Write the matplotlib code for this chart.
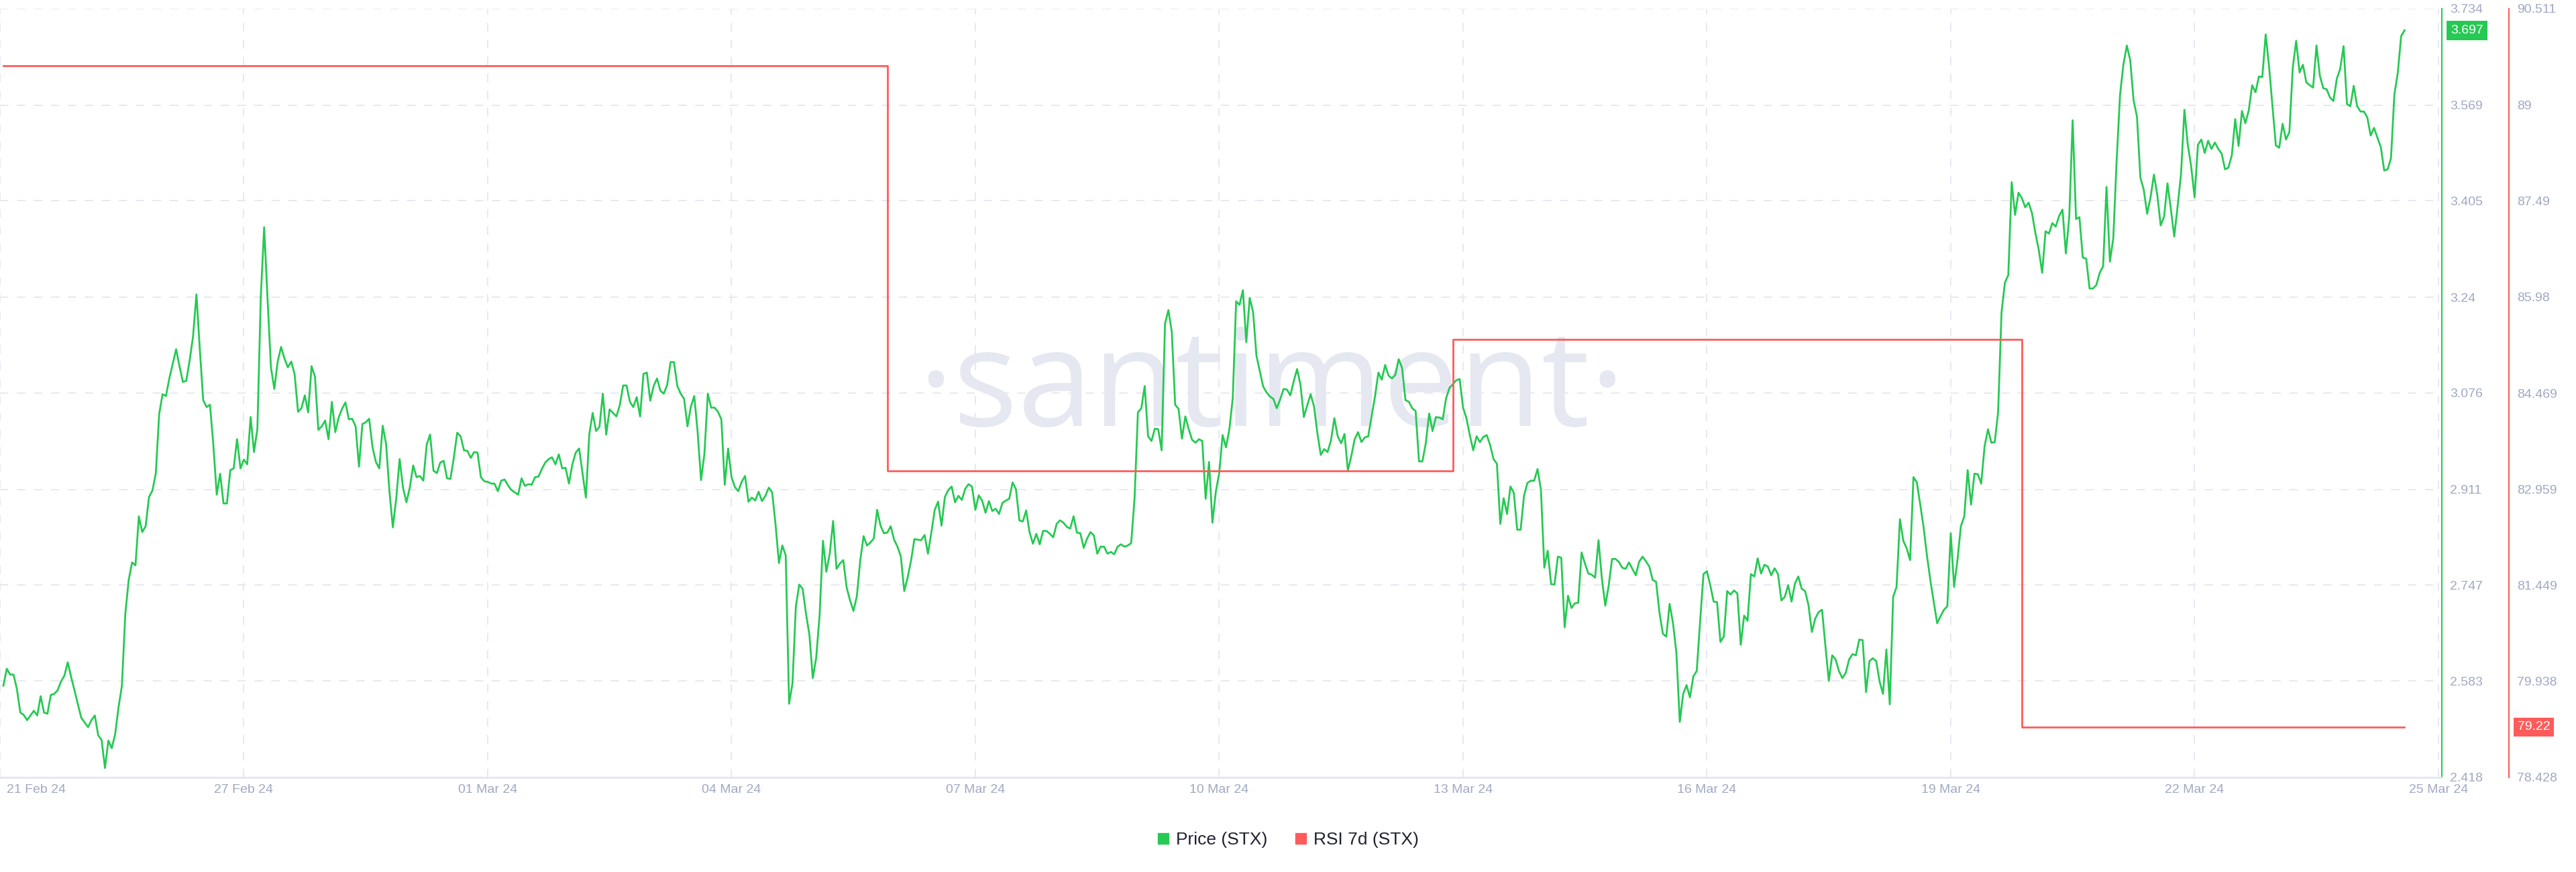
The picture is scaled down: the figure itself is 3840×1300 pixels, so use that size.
import matplotlib.pyplot as plt
import matplotlib.transforms as mtransforms
from matplotlib.lines import Line2D
import pandas as pd

plt.rcParams["font.family"] = ["Liberation Sans", "DejaVu Sans"]

GREEN = "#26c953"
RED = "#ff5b5b"
GRID = "#e6e9f2"
TICK = "#a0a9c4"
WATERMARK = "#e5e8f1"

# hourly STX price, 24 Feb 01:00 onwards
price_part1 = [
    2.575, 2.604, 2.594, 2.594, 2.569, 2.529, 2.525, 2.516, 2.524, 2.532,
    2.524, 2.557, 2.529, 2.527, 2.559, 2.561, 2.567, 2.582, 2.592, 2.615,
    2.590, 2.567, 2.543, 2.520, 2.512, 2.504, 2.516, 2.524, 2.490, 2.482,
    2.434, 2.481, 2.468, 2.492, 2.538, 2.575, 2.698, 2.756, 2.786, 2.781,
    2.865, 2.838, 2.848, 2.898, 2.909, 2.938, 3.040, 3.074, 3.071, 3.101,
    3.126, 3.151, 3.122, 3.095, 3.097, 3.132, 3.173, 3.245, 3.151, 3.064,
    3.052, 3.056, 2.987, 2.902, 2.938, 2.887, 2.887, 2.944, 2.947, 2.997,
    2.947, 2.962, 2.954, 3.035, 2.975, 3.015, 3.240, 3.360, 3.237, 3.120,
    3.083, 3.130, 3.155, 3.135, 3.120, 3.130, 3.108, 3.044, 3.050, 3.072,
    3.043, 3.122, 3.104, 3.013, 3.019, 3.029, 2.997, 3.061, 3.009, 3.034,
    3.049, 3.060, 3.031, 3.032, 3.019, 2.950, 3.023, 3.026, 3.032, 2.983,
    2.958, 2.947, 3.020, 2.989, 2.907, 2.846, 2.896, 2.963, 2.914, 2.889,
    2.914, 2.952, 2.932,
]
price_part2 = [
    2.934, 2.926, 2.988, 3.005, 2.943, 2.939, 2.957, 2.960, 2.930, 2.929,
    2.965, 3.008, 3.002, 2.978, 2.977, 2.965, 2.975, 2.974, 2.932, 2.925,
    2.924, 2.921, 2.921, 2.908, 2.926, 2.928, 2.918, 2.910, 2.906, 2.902,
    2.930, 2.917, 2.920, 2.919, 2.932, 2.933, 2.946, 2.957, 2.963, 2.966,
    2.954, 2.971, 2.947, 2.948, 2.921, 2.954, 2.974, 2.981, 2.939, 2.897,
    3.005, 3.042, 3.011, 3.018, 3.075, 3.005, 3.048, 3.042, 3.036, 3.055,
    3.089, 3.089, 3.061, 3.052, 3.069, 3.036, 3.109, 3.111, 3.063, 3.088,
    3.101, 3.080, 3.075, 3.090, 3.129, 3.129, 3.088, 3.075, 3.066, 3.019,
    3.053, 3.071, 3.009, 2.927, 2.972, 3.075, 3.051, 3.051, 3.044, 3.031,
    2.919, 2.981, 2.932, 2.915, 2.908, 2.924, 2.934, 2.890, 2.897, 2.892,
    2.907, 2.891, 2.900, 2.914, 2.906, 2.851, 2.785, 2.815, 2.798, 2.544,
    2.579, 2.711, 2.748, 2.741, 2.698, 2.662, 2.588, 2.623, 2.695,
]
price_part3 = [
    2.823, 2.770, 2.801, 2.857, 2.775, 2.784, 2.790, 2.743, 2.721, 2.703,
    2.728, 2.789, 2.831, 2.815, 2.820, 2.827, 2.876, 2.849, 2.836, 2.837,
    2.848, 2.825, 2.813, 2.796, 2.737, 2.760, 2.789, 2.826, 2.825, 2.824,
    2.833, 2.801, 2.837, 2.876, 2.890, 2.849, 2.898, 2.910, 2.916, 2.889,
    2.900, 2.893, 2.912, 2.920, 2.916, 2.876, 2.901, 2.892, 2.871, 2.891,
    2.874, 2.878, 2.869, 2.888, 2.892, 2.895, 2.923, 2.911, 2.858, 2.856,
    2.875, 2.838, 2.818, 2.835, 2.817, 2.840, 2.840, 2.835, 2.829, 2.852,
    2.858, 2.854, 2.847, 2.844, 2.865, 2.837, 2.836, 2.811, 2.827, 2.838,
    2.832, 2.801, 2.813, 2.813, 2.801, 2.804, 2.800, 2.813, 2.817, 2.813,
    2.815, 2.819, 2.895, 3.043, 3.050, 3.088, 3.002, 2.994, 3.015, 3.014,
    2.978, 3.195, 3.218, 3.181, 3.056, 3.049, 2.998, 3.036, 3.014, 2.996,
    2.991, 2.997, 2.994, 2.895, 2.958, 2.854, 2.907, 2.939,
]
price_part4 = [
    3.004, 2.983, 3.014, 3.067, 3.233, 3.227, 3.252, 3.163, 3.239, 3.215,
    3.140, 3.113, 3.087, 3.077, 3.070, 3.066, 3.050, 3.065, 3.083, 3.082,
    3.072, 3.096, 3.117, 3.090, 3.035, 3.055, 3.074, 3.053, 3.007, 2.970,
    2.980, 2.975, 2.995, 3.033, 3.002, 2.990, 3.006, 2.943, 2.968, 2.997,
    3.009, 2.992, 3.000, 3.002, 3.036, 3.070, 3.111, 3.099, 3.124, 3.106,
    3.101, 3.107, 3.134, 3.119, 3.064, 3.061, 3.050, 3.045, 2.959, 2.959,
    2.990, 3.041, 3.011, 3.035, 3.034, 3.031, 3.067, 3.085, 3.091, 3.098,
    3.100, 3.051, 3.033, 3.004, 2.978, 3.002, 2.992, 3.001, 3.004, 2.987,
    2.963, 2.955, 2.852, 2.896, 2.869, 2.916, 2.905, 2.842, 2.842, 2.900,
    2.922, 2.926, 2.926, 2.946, 2.910, 2.777, 2.806, 2.749, 2.748, 2.796,
    2.794, 2.675, 2.729, 2.708, 2.716, 2.717, 2.803, 2.784, 2.767, 2.765,
    2.760, 2.824, 2.758, 2.712, 2.746, 2.792, 2.792, 2.787, 2.777,
]
price_part5 = [
    2.775, 2.786, 2.775, 2.764, 2.787, 2.796, 2.788, 2.779, 2.756, 2.753,
    2.700, 2.664, 2.659, 2.715, 2.682, 2.631, 2.513, 2.561, 2.576, 2.555,
    2.591, 2.600, 2.685, 2.766, 2.771, 2.747, 2.719, 2.718, 2.650, 2.659,
    2.737, 2.731, 2.738, 2.733, 2.645, 2.695, 2.686, 2.766, 2.762, 2.793,
    2.767, 2.782, 2.779, 2.764, 2.776, 2.766, 2.721, 2.727, 2.747, 2.719,
    2.750, 2.762, 2.741, 2.737, 2.713, 2.667, 2.690, 2.701, 2.705, 2.643,
    2.583, 2.627, 2.620, 2.600, 2.588, 2.597, 2.620, 2.629, 2.627, 2.654,
    2.653, 2.564, 2.617, 2.622, 2.617, 2.582, 2.561, 2.637, 2.543, 2.727,
    2.744, 2.860, 2.823, 2.810, 2.790, 2.932, 2.923, 2.885, 2.846, 2.797,
    2.755, 2.718, 2.682, 2.694, 2.705, 2.711, 2.836, 2.744, 2.791, 2.848,
    2.865, 2.944, 2.885, 2.938, 2.937, 2.921, 2.985, 3.014, 2.991, 2.992,
    3.044, 3.214, 3.265, 3.278,
]
price_part6 = [
    3.437, 3.381, 3.419, 3.410, 3.394, 3.402, 3.384, 3.350, 3.321, 3.282,
    3.353, 3.349, 3.367, 3.361, 3.379, 3.390, 3.315, 3.378, 3.543, 3.374,
    3.377, 3.308, 3.306, 3.255, 3.255, 3.261, 3.282, 3.293, 3.429, 3.301,
    3.341, 3.475, 3.587, 3.639, 3.671, 3.646, 3.577, 3.549, 3.445, 3.424,
    3.383, 3.411, 3.450, 3.415, 3.363, 3.378, 3.435, 3.391, 3.344, 3.396,
    3.451, 3.561, 3.501, 3.464, 3.411, 3.501, 3.510, 3.487, 3.508, 3.494,
    3.505, 3.494, 3.486, 3.459, 3.462, 3.483, 3.545, 3.499, 3.559, 3.538,
    3.560, 3.603, 3.591, 3.618, 3.617, 3.690, 3.635, 3.567, 3.500, 3.496,
    3.537, 3.510, 3.523, 3.633, 3.679, 3.625, 3.638, 3.608, 3.603, 3.599,
    3.671, 3.619, 3.598, 3.596, 3.582, 3.576, 3.614, 3.631, 3.670, 3.571,
    3.567, 3.602, 3.567, 3.558, 3.558, 3.548, 3.517, 3.530, 3.513, 3.497,
    3.457, 3.459, 3.478, 3.587, 3.624, 3.687, 3.697,
]
price_start = "2024-02-24 01:00"

# weekly RSI 7d, held until the next value
rsi_times = ["2024-02-24 01:00", "2024-03-05 22:00", "2024-03-12 21:00", "2024-03-19 21:00"]
rsi_values = [89.62, 83.246, 85.308, 79.22]

price_ticks = [2.418, 2.583, 2.747, 2.911, 3.076, 3.24, 3.405, 3.569, 3.734]
price_tick_labels = ["2.418", "2.583", "2.747", "2.911", "3.076", "3.24", "3.405", "3.569", "3.734"]
rsi_ticks = [78.428, 79.938, 81.449, 82.959, 84.469, 85.98, 87.49, 89, 90.511]
rsi_tick_labels = ["78.428", "79.938", "81.449", "82.959", "84.469", "85.98", "87.49", "89", "90.511"]
date_ticks = ["2024-02-24", "2024-02-27", "2024-03-01", "2024-03-04", "2024-03-07", "2024-03-10",
              "2024-03-13", "2024-03-16", "2024-03-19", "2024-03-22", "2024-03-25"]
date_labels = ["21 Feb 24", "27 Feb 24", "01 Mar 24", "04 Mar 24", "07 Mar 24", "10 Mar 24",
               "13 Mar 24", "16 Mar 24", "19 Mar 24", "22 Mar 24", "25 Mar 24"]


def main():
    price = price_part1 + price_part2 + price_part3 + price_part4 + price_part5 + price_part6
    times = pd.date_range(price_start, periods=len(price), freq="h")

    fig = plt.figure(figsize=(38.4, 13), dpi=100)
    ax = fig.add_axes([0.0, 0.1085, 0.9479, 0.8815])
    ax2 = ax.twinx()

    ax.plot(times, price, color=GREEN, lw=2.0, zorder=3)
    ax.set_xlim(pd.Timestamp("2024-02-24 00:00"), pd.Timestamp("2024-03-25 01:00"))
    ax.set_ylim(price_ticks[0], price_ticks[-1])
    ax.set_xticks(pd.to_datetime(date_ticks), labels=date_labels)
    ax.set_yticks(price_ticks, labels=price_tick_labels)
    ax.yaxis.tick_right()
    ax.grid(True, color=GRID, lw=1.4, linestyle=(0, (6.5, 6.5)))
    ax.set_axisbelow(True)

    for side in ["top", "left"]:
        ax.spines[side].set_visible(False)
    ax.spines["right"].set_color(GREEN)
    ax.spines["right"].set_linewidth(1.5)
    ax.spines["bottom"].set_color("#e3e7f0")
    ax.spines["bottom"].set_linewidth(2)
    ax.tick_params(axis="y", length=0, pad=8.6, labelsize=14, labelcolor=TICK)
    ax.tick_params(axis="x", length=0, pad=7, labelsize=14, labelcolor=TICK)
    first = ax.get_xticklabels()[0]
    first.set_ha("left")
    first.set_transform(first.get_transform() + mtransforms.ScaledTranslation(0.1, 0, fig.dpi_scale_trans))

    rsi_x = list(pd.to_datetime(rsi_times)) + [times[-1]]
    rsi_y = rsi_values + [rsi_values[-1]]
    ax2.plot(rsi_x, rsi_y, drawstyle="steps-post", color=RED, lw=2.0, zorder=3)
    ax2.set_ylim(rsi_ticks[0], rsi_ticks[-1])
    ax2.set_yticks(rsi_ticks, labels=rsi_tick_labels)
    for side in ["top", "left", "bottom"]:
        ax2.spines[side].set_visible(False)
    ax2.spines["right"].set_position(("outward", 72))
    ax2.spines["right"].set_color(RED)
    ax2.spines["right"].set_linewidth(1.5)
    ax2.tick_params(axis="y", length=0, pad=8.6, labelsize=14, labelcolor=TICK)

    # last-value badges on both axes
    tr1 = mtransforms.blended_transform_factory(ax.transAxes, ax.transData)
    ax.text(1.0036, price[-1], f"{price[-1]:.3f}", transform=tr1, ha="left", va="center",
            fontsize=14, color="white", clip_on=False,
            bbox=dict(boxstyle="square,pad=0.3", fc=GREEN, ec="none"))
    tr2 = mtransforms.blended_transform_factory(ax2.transAxes, ax2.transData)
    ax2.text(1.0310, rsi_values[-1], f"{rsi_values[-1]:.2f}", transform=tr2, ha="left", va="center",
             fontsize=14, color="white", clip_on=False,
             bbox=dict(boxstyle="square,pad=0.3", fc=RED, ec="none"))

    ax.text(0.4936, 0.5115, "\u00b7santiment\u00b7", transform=fig.transFigure, ha="center",
            va="baseline", fontsize=145, family=["Open Sans", "DejaVu Sans"], color=WATERMARK, zorder=0.5)

    handles = [
        Line2D([], [], marker="s", linestyle="none", markersize=12, color=GREEN),
        Line2D([], [], marker="s", linestyle="none", markersize=12, color=RED),
    ]
    fig.legend(handles, ["Price (STX)", "RSI 7d (STX)"], loc="center", bbox_to_anchor=(0.5, 0.037),
               ncol=2, frameon=False, fontsize=19, labelcolor="#1f2232", handlelength=0.7,
               handletextpad=0.35, columnspacing=1.55)

    fig.savefig("out.png", dpi=100)
    plt.close(fig)


if __name__ == "__main__":
    main()
